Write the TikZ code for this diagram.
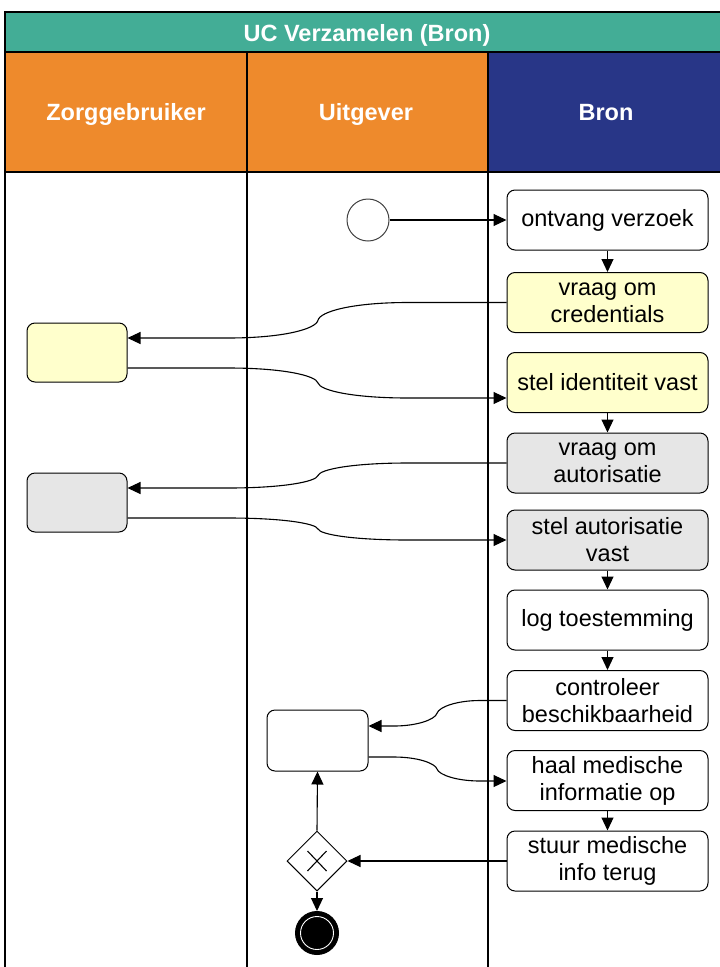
\documentclass[tikz,border=0pt]{standalone}
\usepackage{fontspec}
\setmainfont{Liberation Sans}
\usetikzlibrary{arrows.meta,shapes.geometric}
\definecolor{teal1}{HTML}{43AD96}
\definecolor{orange1}{HTML}{EE8A2C}
\definecolor{navy1}{HTML}{283687}
\definecolor{yell}{HTML}{FFFFCC}
\definecolor{grayf}{HTML}{E6E6E6}
\begin{document}
\begin{tikzpicture}[x=1pt,y=-1pt,
 task/.style={draw, line width=1pt, rounded corners=8pt, minimum width=201pt, minimum height=60pt, align=center, font=\fontsize{23.5}{27}\selectfont, inner sep=2pt},
 lanebox/.style={draw, line width=1pt, rounded corners=8pt, minimum width=100pt, minimum height=59pt, inner sep=0pt},
 arr/.style={line width=1.1pt, -{Triangle[length=13pt,width=12pt]}},
 hdr/.style={text=white, anchor=base, font=\bfseries\fontsize{23.5}{27}\selectfont},
 lane/.style={line width=1.3pt}
]
\useasboundingbox (0,0) rectangle (720,967);
% header
\fill[teal1] (5,12) rectangle (720,52);
\fill[orange1] (5,52) rectangle (488,172);
\fill[navy1] (488,52) rectangle (720,172);
\draw[lane] (5,967) -- (5,12) -- (720,12);
\draw[lane] (5,52) -- (720,52);
\draw[lane] (5,172) -- (720,172);
\draw[lane] (247,52) -- (247,967);
\draw[lane] (488,52) -- (488,967);
\node[hdr] (title) at (367,41.5) {UC Verzamelen (Bron)};
\node[hdr] (h1) at (126,120) {Zorggebruiker};
\node[hdr] (h2) at (366,120) {Uitgever};
\node[hdr] (h3) at (606,120) {Bron};
% Bron tasks
\node[task] (t1) at (607.5,220) {ontvang verzoek};
\node[task, fill=yell] (t2) at (607.5,302.5) {vraag om\\credentials};
\node[task, fill=yell] (t3) at (607.5,382.5) {stel identiteit vast};
\node[task, fill=grayf] (t4) at (607.5,463) {vraag om\\autorisatie};
\node[task, fill=grayf] (t5) at (607.5,540) {stel autorisatie\\vast};
\node[task] (t6) at (607.5,620) {log toestemming};
\node[task] (t7) at (607.5,700.5) {controleer\\beschikbaarheid};
\node[task] (t8) at (607.5,780.5) {haal medische\\informatie op};
\node[task] (t9) at (607.5,861) {stuur medische\\info terug};
% other lanes
\node[lanebox, fill=yell] (z1) at (77,352.5) {};
\node[lanebox, fill=grayf] (z2) at (77,502.5) {};
\node[lanebox, minimum width=101pt, minimum height=61pt] (u1) at (317.5,740.5) {};
\node[circle, draw=black!75, line width=1pt, minimum size=42pt, inner sep=0pt] (st) at (368,220) {};
\node[diamond, draw, line width=1pt, minimum width=60pt, minimum height=60pt, inner sep=0pt] (gw) at (317,861) {};
\draw[line width=1.1pt] ([shift={(-9.5,-10)}]gw.center) -- ([shift={(9.5,10)}]gw.center);
\draw[line width=1.1pt] ([shift={(-9.5,10)}]gw.center) -- ([shift={(9.5,-10)}]gw.center);
\node[circle, fill=black, draw=black, line width=1pt, minimum size=43pt, inner sep=0pt] (en) at (317,933) {};
\draw[white, line width=0.9pt] (en.center) circle (16.5pt);
% connectors
\draw[arr] (st.east) -- (t1.west);
\draw[arr] (t1.south) -- (t2.north);
\draw[arr] (t3.south) -- (t4.north);
\draw[arr] (t5.south) -- (t6.north);
\draw[arr] (t6.south) -- (t7.north);
\draw[arr] (t8.south) -- (t9.north);
\draw[arr] (t2.west) -- (408,302.5) .. controls (353,302.5) and (320,311.4) .. (318,320.25) .. controls (316,329.1) and (283,338) .. (228,338) -- ([yshift=14.5pt]z1.east);
\draw[arr] ([yshift=-15.5pt]z1.east) -- (228,368) .. controls (283,368) and (316,375.5) .. (318,383) .. controls (320,390.5) and (353,398) .. (408,398) -- ([yshift=-15.5pt]t3.west);
\draw[arr] (t4.west) -- (408,463) .. controls (353,463) and (320,469.25) .. (318,475.5) .. controls (316,481.75) and (283,488) .. (228,488) -- ([yshift=14.5pt]z2.east);
\draw[arr] ([yshift=-15.5pt]z2.east) -- (228,518) .. controls (283,518) and (316,523.5) .. (318,529) .. controls (320,534.5) and (353,540) .. (408,540) -- (t5.west);
\draw[arr] (t7.west) -- (480,700.5) .. controls (457,700.5) and (439,706.9) .. (437,713.25) .. controls (435,719.6) and (417,726) .. (394,726) -- ([yshift=14.5pt]u1.east);
\draw[arr] ([yshift=-16.5pt]u1.east) -- (394,757) .. controls (417,757) and (435,763) .. (437,769) .. controls (439,775) and (457,781) .. (480,781) -- ([yshift=-0.5pt]t8.west);
\draw[arr] (t9.west) -- (gw.east);
\draw[arr] (gw.north) -- (u1.south);
\draw[arr] (gw.south) -- (en.north);
\end{tikzpicture}
\end{document}
